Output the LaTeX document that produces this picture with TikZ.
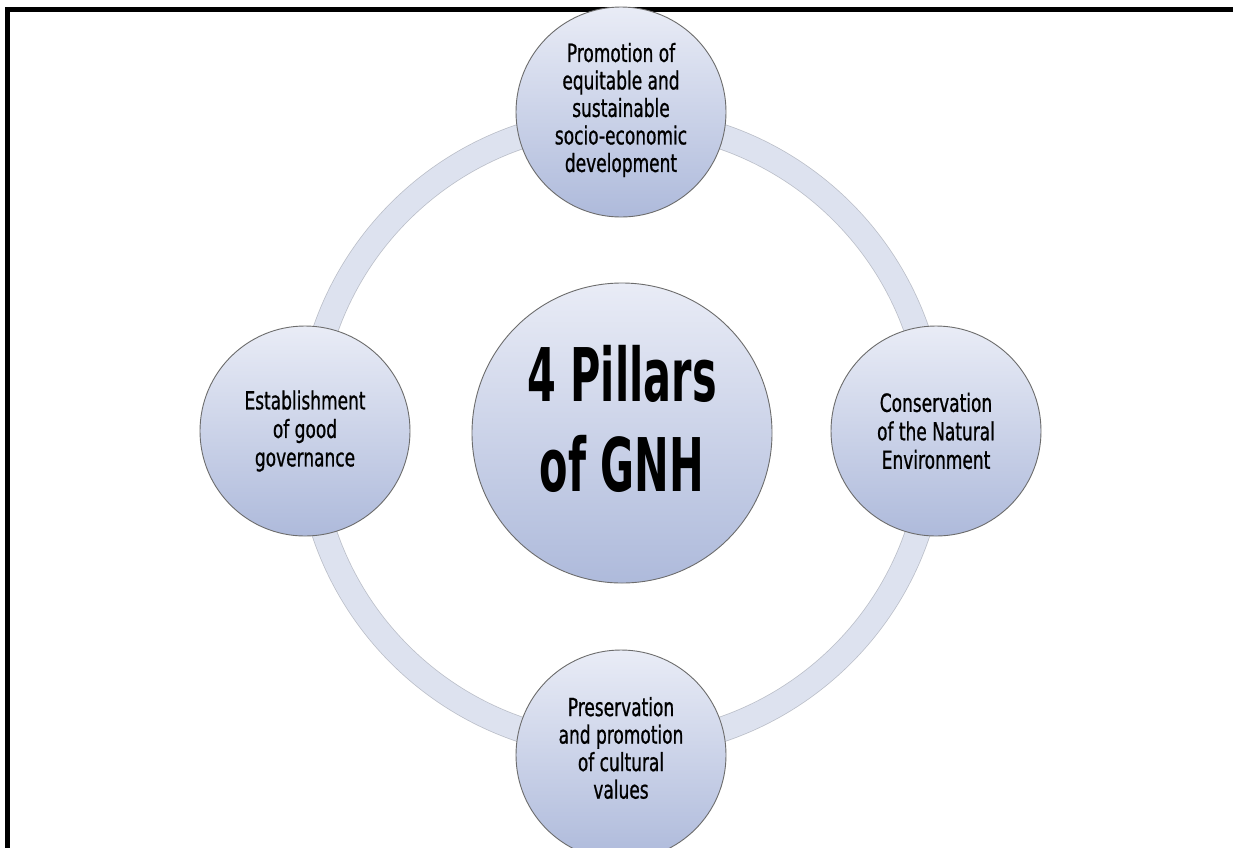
\documentclass[tikz,border=0pt]{standalone}
\usepackage{fontspec}
\newfontfamily\smallfnt{DejaVu Sans}[FakeStretch=0.68,FakeBold=0.8]
\newfontfamily\bigfnt{DejaVu Sans}[FakeStretch=0.56]
\definecolor{cTop}{HTML}{E9ECF6}
\definecolor{cBot}{HTML}{AEBADB}
\definecolor{ringFill}{HTML}{DDE2EF}
\definecolor{ringEdge}{HTML}{BABEC8}
\begin{document}
\begin{tikzpicture}[x=1pt,y=-1pt,
  pillar/.style={circle, draw=gray!85!black, line width=0.9pt, top color=cTop, bottom color=cBot,
    minimum size=210pt, inner sep=0pt},
  hub/.style={pillar, minimum size=300pt},
  ptext/.style={align=center, font=\smallfnt\fontsize{25}{27.5}\selectfont, text=black},
  htext/.style={align=center, font=\bigfnt\bfseries\fontsize{74}{90}\selectfont, text=black},
  frame/.style={line width=5pt, black, line join=miter}]
\fill[white] (0,0) rectangle (1233,847);
\useasboundingbox (0,0) rectangle (1233,847);
% frame
\draw[frame] (7.5,850) -- (7.5,9.5) -- (1236,9.5);
% ring
\coordinate (o) at (621,433);
\draw[ringEdge, line width=25.5pt] (o) circle[radius=313];
\draw[ringFill, line width=24pt] (o) circle[radius=313];
% nodes
\node[hub] (c) at (622,433) {};
\node[htext] (ct) at (622,419) {4 Pillars\\of GNH};
\node[pillar] (t) at (621,112) {};
\node[ptext] (tt) at (621,110) {Promotion of\\equitable and\\sustainable\\socio-economic\\development};
\node[pillar] (r) at (936,431) {};
\node[ptext, font=\smallfnt\fontsize{25}{28.5}\selectfont] (rt) at (r) {Conservation\\of the Natural\\Environment};
\node[pillar] (b) at (621,755) {};
\node[ptext] (bt) at (621,748) {Preservation\\and promotion\\of cultural\\values};
\node[pillar] (l) at (305,431) {};
\node[ptext, font=\smallfnt\fontsize{25}{28.5}\selectfont] (lt) at (l) {Establishment\\of good\\governance};
\end{tikzpicture}
\end{document}
